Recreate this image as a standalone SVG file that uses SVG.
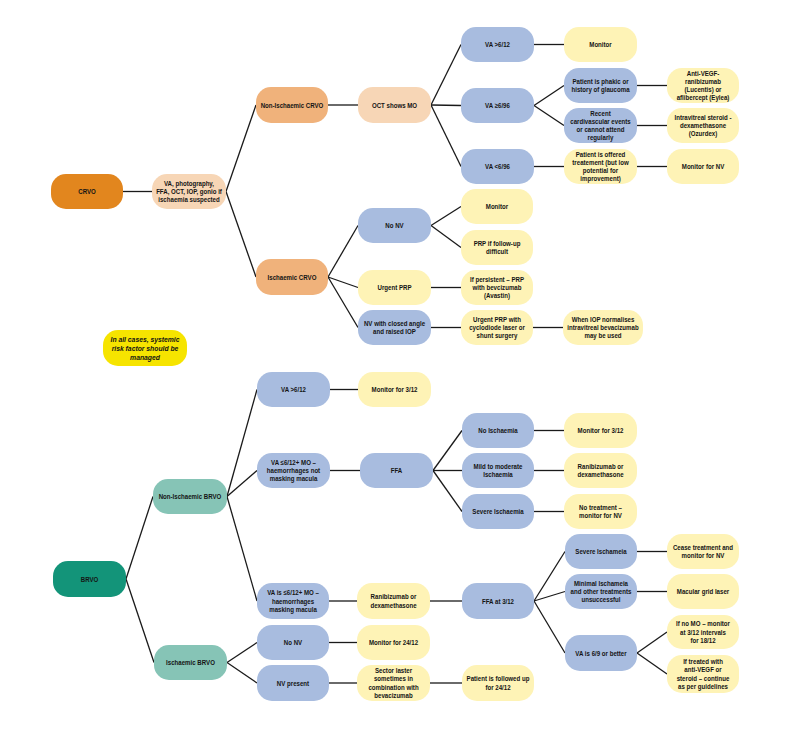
<svg xmlns="http://www.w3.org/2000/svg" width="800" height="739" viewBox="0 0 800 739">
<style>
rect{stroke:none}
.b{fill:#a8bcdf}
.y{fill:#fef3b6}
.p{fill:#f7d6b6}
.o{fill:#f0b27b}
.d{fill:#e2861e}
.t{fill:#139479}
.l{fill:#86c4b6}
.n{fill:#f6e400}
text{font-family:"Liberation Sans",Arial,sans-serif;font-weight:bold;font-size:7.2px;fill:#141414;text-anchor:middle}
.i{font-style:italic;font-size:8px}
#connectors line{stroke:#1a1a1a;stroke-width:1.3;fill:none}
</style>
<rect x="0" y="0" width="800" height="739" fill="#ffffff"/>
<g id="connectors">
<line x1="123" y1="191.5" x2="152" y2="191.5"/>
<line x1="226" y1="191.5" x2="256" y2="105"/>
<line x1="226" y1="191.5" x2="256" y2="277"/>
<line x1="328" y1="105" x2="358" y2="105"/>
<line x1="431" y1="105" x2="461" y2="44.5"/>
<line x1="431" y1="105" x2="461" y2="105.5"/>
<line x1="431" y1="105" x2="461" y2="166.5"/>
<line x1="534" y1="44.5" x2="564" y2="44.5"/>
<line x1="534" y1="105.5" x2="564" y2="85.5"/>
<line x1="534" y1="105.5" x2="564" y2="125.5"/>
<line x1="637" y1="85.5" x2="667" y2="85.5"/>
<line x1="637" y1="125.5" x2="667" y2="125.5"/>
<line x1="534" y1="166.5" x2="564" y2="166.5"/>
<line x1="637" y1="166.5" x2="667" y2="166.5"/>
<line x1="328" y1="277" x2="358" y2="225.5"/>
<line x1="328" y1="277" x2="358" y2="287.5"/>
<line x1="328" y1="277" x2="358" y2="327.5"/>
<line x1="431" y1="225.5" x2="461" y2="206.5"/>
<line x1="431" y1="225.5" x2="461" y2="247.5"/>
<line x1="431" y1="287.5" x2="461" y2="287.5"/>
<line x1="431" y1="327.5" x2="461" y2="327.5"/>
<line x1="533" y1="327.5" x2="563" y2="327.5"/>
<line x1="126" y1="579" x2="153" y2="496.5"/>
<line x1="126" y1="579" x2="154" y2="662.5"/>
<line x1="227" y1="496.5" x2="257" y2="389.5"/>
<line x1="227" y1="496.5" x2="257" y2="470.5"/>
<line x1="227" y1="496.5" x2="257" y2="601"/>
<line x1="330" y1="389.5" x2="358" y2="389.5"/>
<line x1="330" y1="470.5" x2="360" y2="470.5"/>
<line x1="433" y1="470.5" x2="462" y2="430.5"/>
<line x1="433" y1="470.5" x2="462" y2="470.5"/>
<line x1="433" y1="470.5" x2="462" y2="511.5"/>
<line x1="534" y1="430.5" x2="564" y2="430.5"/>
<line x1="534" y1="470.5" x2="564" y2="470.5"/>
<line x1="534" y1="511.5" x2="564" y2="511.5"/>
<line x1="329" y1="601" x2="357" y2="601"/>
<line x1="430" y1="601" x2="462" y2="601"/>
<line x1="534" y1="601" x2="565" y2="551.5"/>
<line x1="534" y1="601" x2="565" y2="591.5"/>
<line x1="534" y1="601" x2="565" y2="653"/>
<line x1="637" y1="551.5" x2="667" y2="551.5"/>
<line x1="637" y1="591.5" x2="667" y2="591.5"/>
<line x1="637" y1="653" x2="667" y2="632"/>
<line x1="637" y1="653" x2="667" y2="674"/>
<line x1="227" y1="662.5" x2="257" y2="642.5"/>
<line x1="227" y1="662.5" x2="257" y2="683"/>
<line x1="329" y1="642.5" x2="357" y2="642.5"/>
<line x1="329" y1="683" x2="357" y2="683"/>
<line x1="430" y1="683" x2="462" y2="683"/>
</g>

<g id="crvo"><rect class="d" x="51" y="174" width="72" height="35" rx="15"/><text transform="translate(87,191.5) scale(0.85,1)"><tspan x="0" y="2.6">CRVO</tspan></text></g>
<g id="crvo-tests"><rect class="p" x="152" y="174" width="74" height="35" rx="15"/><text transform="translate(189,191.5) scale(0.85,1)"><tspan x="0" y="-5.7">VA, photography,</tspan><tspan x="0" y="2.6">FFA, OCT, IOP, gonio if</tspan><tspan x="0" y="10.9">ischaemia suspected</tspan></text></g>
<g id="non-ischaemic-crvo"><rect class="o" x="256" y="87" width="72" height="36" rx="15"/><text transform="translate(292,105) scale(0.85,1)"><tspan x="0" y="2.6">Non-Ischaemic CRVO</tspan></text></g>
<g id="oct-mo"><rect class="p" x="358" y="87" width="73" height="36" rx="15"/><text transform="translate(394.5,105) scale(0.85,1)"><tspan x="0" y="2.6">OCT shows MO</tspan></text></g>
<g id="crvo-va-gt612"><rect class="b" x="461" y="27" width="73" height="35" rx="15"/><text transform="translate(497.5,44.5) scale(0.85,1)"><tspan x="0" y="2.6">VA &gt;6/12</tspan></text></g>
<g id="crvo-monitor1"><rect class="y" x="564" y="27" width="73" height="35" rx="15"/><text transform="translate(600.5,44.5) scale(0.85,1)"><tspan x="0" y="2.6">Monitor</tspan></text></g>
<g id="crvo-va-ge696"><rect class="b" x="461" y="88" width="73" height="35" rx="15"/><text transform="translate(497.5,105.5) scale(0.85,1)"><tspan x="0" y="2.6">VA ≥6/96</tspan></text></g>
<g id="phakic"><rect class="b" x="564" y="68" width="73" height="35" rx="15"/><text transform="translate(600.5,85.5) scale(0.85,1)"><tspan x="0" y="-1.6">Patient is phakic or</tspan><tspan x="0" y="6.7">history of glaucoma</tspan></text></g>
<g id="cardio"><rect class="b" x="564" y="108" width="73" height="35" rx="15"/><text transform="translate(600.5,125.5) scale(0.85,1)"><tspan x="0" y="-9.9">Recent</tspan><tspan x="0" y="-1.6">cardivascular events</tspan><tspan x="0" y="6.7">or cannot attend</tspan><tspan x="0" y="15">regularly</tspan></text></g>
<g id="anti-vegf"><rect class="y" x="667" y="68" width="72" height="35" rx="15"/><text transform="translate(703,85.5) scale(0.85,1)"><tspan x="0" y="-9.9">Anti-VEGF-</tspan><tspan x="0" y="-1.6">ranibizumab</tspan><tspan x="0" y="6.7">(Lucentis) or</tspan><tspan x="0" y="15">aflibercept (Eylea)</tspan></text></g>
<g id="steroid"><rect class="y" x="667" y="108" width="72" height="35" rx="15"/><text transform="translate(703,125.5) scale(0.85,1)"><tspan x="0" y="-5.7">Intravitreal steroid -</tspan><tspan x="0" y="2.6">dexamethasone</tspan><tspan x="0" y="10.9">(Ozurdex)</tspan></text></g>
<g id="crvo-va-lt696"><rect class="b" x="461" y="149" width="73" height="35" rx="15"/><text transform="translate(497.5,166.5) scale(0.85,1)"><tspan x="0" y="2.6">VA &lt;6/96</tspan></text></g>
<g id="offered"><rect class="y" x="564" y="149" width="73" height="35" rx="15"/><text transform="translate(600.5,166.5) scale(0.85,1)"><tspan x="0" y="-9.9">Patient is offered</tspan><tspan x="0" y="-1.6">treatement (but low</tspan><tspan x="0" y="6.7">potential for</tspan><tspan x="0" y="15">improvement)</tspan></text></g>
<g id="crvo-monitor-nv"><rect class="y" x="667" y="149" width="72" height="35" rx="15"/><text transform="translate(703,166.5) scale(0.85,1)"><tspan x="0" y="2.6">Monitor for NV</tspan></text></g>
<g id="ischaemic-crvo"><rect class="o" x="256" y="259" width="72" height="36" rx="15"/><text transform="translate(292,277) scale(0.85,1)"><tspan x="0" y="2.6">Ischaemic CRVO</tspan></text></g>
<g id="crvo-no-nv"><rect class="b" x="358" y="208" width="73" height="35" rx="15"/><text transform="translate(394.5,225.5) scale(0.85,1)"><tspan x="0" y="2.6">No NV</tspan></text></g>
<g id="crvo-monitor2"><rect class="y" x="461" y="189" width="72" height="35" rx="15"/><text transform="translate(497,206.5) scale(0.85,1)"><tspan x="0" y="2.6">Monitor</tspan></text></g>
<g id="prp-followup"><rect class="y" x="461" y="230" width="72" height="35" rx="15"/><text transform="translate(497,247.5) scale(0.85,1)"><tspan x="0" y="-1.6">PRP if follow-up</tspan><tspan x="0" y="6.7">difficult</tspan></text></g>
<g id="urgent-prp"><rect class="y" x="358" y="270" width="73" height="35" rx="15"/><text transform="translate(394.5,287.5) scale(0.85,1)"><tspan x="0" y="2.6">Urgent PRP</tspan></text></g>
<g id="persistent"><rect class="y" x="461" y="270" width="72" height="35" rx="15"/><text transform="translate(497,287.5) scale(0.85,1)"><tspan x="0" y="-5.7">If persistent – PRP</tspan><tspan x="0" y="2.6">with bevcizumab</tspan><tspan x="0" y="10.9">(Avastin)</tspan></text></g>
<g id="nv-closed-angle"><rect class="b" x="358" y="310" width="73" height="35" rx="15"/><text transform="translate(394.5,327.5) scale(0.85,1)"><tspan x="0" y="-1.6">NV with closed angle</tspan><tspan x="0" y="6.7">and raised IOP</tspan></text></g>
<g id="cyclodiode"><rect class="y" x="461" y="310" width="72" height="35" rx="15"/><text transform="translate(497,327.5) scale(0.85,1)"><tspan x="0" y="-5.7">Urgent PRP with</tspan><tspan x="0" y="2.6">cyclodiode laser or</tspan><tspan x="0" y="10.9">shunt surgery</tspan></text></g>
<g id="iop-normalises"><rect class="y" x="563" y="310" width="80" height="35" rx="15"/><text transform="translate(603,327.5) scale(0.85,1)"><tspan x="0" y="-5.7">When IOP normalises</tspan><tspan x="0" y="2.6">intravitreal bevacizumab</tspan><tspan x="0" y="10.9">may be used</tspan></text></g>

<g id="note"><rect class="n" x="103" y="330" width="84" height="36" rx="15"/><text class="i" transform="translate(145,348) scale(0.85,1)"><tspan x="0" y="-6.3">In all cases, systemic</tspan><tspan x="0" y="2.8">risk factor should be</tspan><tspan x="0" y="11.9">managed</tspan></text></g>

<g id="brvo"><rect class="t" x="53" y="561" width="73" height="36" rx="15"/><text transform="translate(89.5,579) scale(0.85,1)"><tspan x="0" y="2.6">BRVO</tspan></text></g>
<g id="non-ischaemic-brvo"><rect class="l" x="153" y="479" width="74" height="35" rx="15"/><text transform="translate(190,496.5) scale(0.85,1)"><tspan x="0" y="2.6">Non-Ischaemic BRVO</tspan></text></g>
<g id="brvo-va-gt612"><rect class="b" x="257" y="372" width="73" height="35" rx="15"/><text transform="translate(293.5,389.5) scale(0.85,1)"><tspan x="0" y="2.6">VA &gt;6/12</tspan></text></g>
<g id="brvo-monitor-312a"><rect class="y" x="358" y="372" width="73" height="35" rx="15"/><text transform="translate(394.5,389.5) scale(0.85,1)"><tspan x="0" y="2.6">Monitor for 3/12</tspan></text></g>
<g id="va-not-masking"><rect class="b" x="257" y="453" width="73" height="35" rx="15"/><text transform="translate(293.5,470.5) scale(0.85,1)"><tspan x="0" y="-5.7">VA ≤6/12+ MO –</tspan><tspan x="0" y="2.6">haemorrhages not</tspan><tspan x="0" y="10.9">masking macula</tspan></text></g>
<g id="ffa"><rect class="b" x="360" y="453" width="73" height="35" rx="15"/><text transform="translate(396.5,470.5) scale(0.85,1)"><tspan x="0" y="2.6">FFA</tspan></text></g>
<g id="no-ischaemia"><rect class="b" x="462" y="413" width="72" height="35" rx="15"/><text transform="translate(498,430.5) scale(0.85,1)"><tspan x="0" y="2.6">No Ischaemia</tspan></text></g>
<g id="brvo-monitor-312b"><rect class="y" x="564" y="413" width="73" height="35" rx="15"/><text transform="translate(600.5,430.5) scale(0.85,1)"><tspan x="0" y="2.6">Monitor for 3/12</tspan></text></g>
<g id="mild-ischaemia"><rect class="b" x="462" y="453" width="72" height="35" rx="15"/><text transform="translate(498,470.5) scale(0.85,1)"><tspan x="0" y="-1.6">Mild to moderate</tspan><tspan x="0" y="6.7">Ischaemia</tspan></text></g>
<g id="ranibizumab1"><rect class="y" x="564" y="453" width="73" height="35" rx="15"/><text transform="translate(600.5,470.5) scale(0.85,1)"><tspan x="0" y="-1.6">Ranibizumab or</tspan><tspan x="0" y="6.7">dexamethasone</tspan></text></g>
<g id="severe-ischaemia1"><rect class="b" x="462" y="494" width="72" height="35" rx="15"/><text transform="translate(498,511.5) scale(0.85,1)"><tspan x="0" y="2.6">Severe Ischaemia</tspan></text></g>
<g id="no-treatment"><rect class="y" x="564" y="494" width="73" height="35" rx="15"/><text transform="translate(600.5,511.5) scale(0.85,1)"><tspan x="0" y="-1.6">No treatment –</tspan><tspan x="0" y="6.7">monitor for NV</tspan></text></g>
<g id="va-masking"><rect class="b" x="257" y="583" width="72" height="36" rx="15"/><text transform="translate(293,601) scale(0.85,1)"><tspan x="0" y="-5.7">VA is ≤6/12+ MO –</tspan><tspan x="0" y="2.6">haemorrhages</tspan><tspan x="0" y="10.9">masking macula</tspan></text></g>
<g id="ranibizumab2"><rect class="y" x="357" y="583" width="73" height="36" rx="15"/><text transform="translate(393.5,601) scale(0.85,1)"><tspan x="0" y="-1.6">Ranibizumab or</tspan><tspan x="0" y="6.7">dexamethasone</tspan></text></g>
<g id="ffa-312"><rect class="b" x="462" y="583" width="72" height="36" rx="15"/><text transform="translate(498,601) scale(0.85,1)"><tspan x="0" y="2.6">FFA at 3/12</tspan></text></g>
<g id="severe-ischaemia2"><rect class="b" x="565" y="534" width="72" height="35" rx="15"/><text transform="translate(601,551.5) scale(0.85,1)"><tspan x="0" y="2.6">Severe Ischameia</tspan></text></g>
<g id="cease"><rect class="y" x="667" y="534" width="72" height="35" rx="15"/><text transform="translate(703,551.5) scale(0.85,1)"><tspan x="0" y="-1.6">Cease treatment and</tspan><tspan x="0" y="6.7">monitor for NV</tspan></text></g>
<g id="minimal-ischaemia"><rect class="b" x="565" y="574" width="72" height="35" rx="15"/><text transform="translate(601,591.5) scale(0.85,1)"><tspan x="0" y="-5.7">Minimal Ischameia</tspan><tspan x="0" y="2.6">and other treatments</tspan><tspan x="0" y="10.9">unsuccessful</tspan></text></g>
<g id="grid-laser"><rect class="y" x="667" y="574" width="72" height="35" rx="15"/><text transform="translate(703,591.5) scale(0.85,1)"><tspan x="0" y="2.6">Macular grid laser</tspan></text></g>
<g id="va-69"><rect class="b" x="565" y="635" width="72" height="36" rx="15"/><text transform="translate(601,653) scale(0.85,1)"><tspan x="0" y="2.6">VA is 6/9 or better</tspan></text></g>
<g id="no-mo"><rect class="y" x="667" y="615" width="72" height="34" rx="15"/><text transform="translate(703,632) scale(0.85,1)"><tspan x="0" y="-5.7">If no MO – monitor</tspan><tspan x="0" y="2.6">at 3/12 intervals</tspan><tspan x="0" y="10.9">for 18/12</tspan></text></g>
<g id="treated"><rect class="y" x="667" y="655" width="72" height="38" rx="15"/><text transform="translate(703,674) scale(0.85,1)"><tspan x="0" y="-9.9">If treated with</tspan><tspan x="0" y="-1.6">anti-VEGF or</tspan><tspan x="0" y="6.7">steroid – continue</tspan><tspan x="0" y="15">as per guidelines</tspan></text></g>
<g id="ischaemic-brvo"><rect class="l" x="154" y="645" width="73" height="35" rx="15"/><text transform="translate(190.5,662.5) scale(0.85,1)"><tspan x="0" y="2.6">Ischaemic BRVO</tspan></text></g>
<g id="brvo-no-nv"><rect class="b" x="257" y="625" width="72" height="35" rx="15"/><text transform="translate(293,642.5) scale(0.85,1)"><tspan x="0" y="2.6">No NV</tspan></text></g>
<g id="monitor-2412"><rect class="y" x="357" y="625" width="73" height="35" rx="15"/><text transform="translate(393.5,642.5) scale(0.85,1)"><tspan x="0" y="2.6">Monitor for 24/12</tspan></text></g>
<g id="nv-present"><rect class="b" x="257" y="665" width="72" height="36" rx="15"/><text transform="translate(293,683) scale(0.85,1)"><tspan x="0" y="2.6">NV present</tspan></text></g>
<g id="sector-laser"><rect class="y" x="357" y="665" width="73" height="36" rx="15"/><text transform="translate(393.5,683) scale(0.85,1)"><tspan x="0" y="-9.9">Sector laster</tspan><tspan x="0" y="-1.6">sometimes in</tspan><tspan x="0" y="6.7">combination with</tspan><tspan x="0" y="15">bevacizumab</tspan></text></g>
<g id="followed-up"><rect class="y" x="462" y="665" width="72" height="36" rx="15"/><text transform="translate(498,683) scale(0.85,1)"><tspan x="0" y="-1.6">Patient is followed up</tspan><tspan x="0" y="6.7">for 24/12</tspan></text></g>
</svg>
